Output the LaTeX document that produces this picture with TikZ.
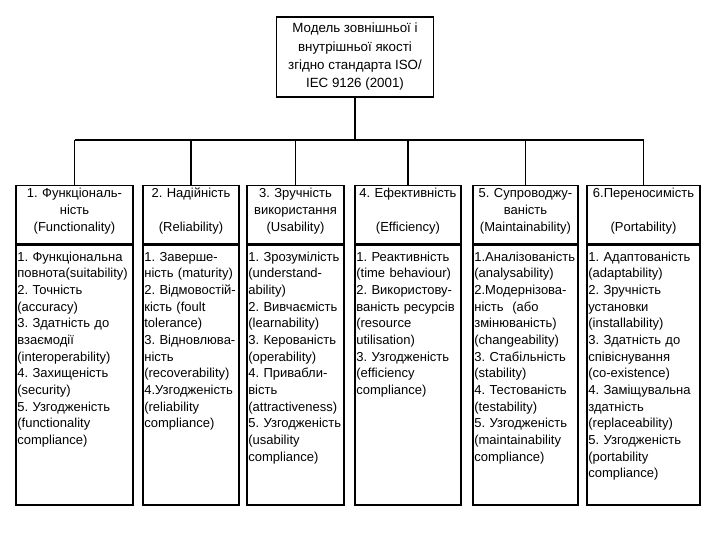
\documentclass[tikz,border=0pt]{standalone}
\usepackage{fontspec}
\setmainfont{Liberation Sans}
\usetikzlibrary{positioning}
\hyphenpenalty=10000
\frenchspacing
\tikzstyle{model} = [rectangle, draw=black, line width=1pt, align=center, minimum width=117.75pt, minimum height=60pt, inner sep=2pt, font=\fontsize{10}{13.75}\selectfont]
\tikzstyle{head} = [rectangle, draw=black, line width=1pt, anchor=north, align=center, inner xsep=1pt, inner ysep=2pt, text height=7pt, text depth=32.5pt, font=\fontsize{9.75}{12.75}\selectfont]
\tikzstyle{body} = [rectangle, draw=black, line width=1pt, align=left, inner xsep=1pt, inner ysep=3pt, text height=9pt, text depth=180pt, font=\fontsize{9.75}{12.5}\selectfont]
\tikzstyle{link} = [line width=0.9pt]

\begin{document}
\begin{tikzpicture}[x=0.75pt, y=-0.75pt]
    \useasboundingbox (0,0) rectangle (720,540);

    \node (model) [model] at (355,57) {Модель зовнішньої і\\внутрішньої якості\\згідно стандарта ISO/\\IEC 9126 (2001)};

    \node (head1) [head, text width=85.75pt] at (74.5,185) {1. Функціональ-\\ність\\(Functionality)};
    \node (head2) [head, text width=70pt] at (191,185) {2. Надійність\\\mbox{}\\(Reliability)};
    \node (head3) [head, text width=70.75pt] at (295.5,185) {3. Зручність\\використання\\(Usability)};
    \node (head4) [head, text width=77.5pt] at (408,185) {4. Ефективність\\\mbox{}\\(Efficiency)};
    \node (head5) [head, text width=76.75pt] at (525.5,185) {5. Супроводжу-\\ваність\\(Maintainability)};
    \node (head6) [head, text width=82.75pt] at (643.5,185) {6.Переносимість\\\mbox{}\\(Portability)};

    \node (body1) [body, text width=85.75pt, below=0pt of head1] {1. Функціональна\\повнота(suitability)\\2. Точність\\(accuracy)\\3. Здатність до\\взаємодії\\(interoperability)\\4. Захищеність\\(security)\\5. Узгодженість\\(functionality\\compliance)};
    \node (body2) [body, text width=70pt, below=0pt of head2] {1. Заверше-\\ність (maturity)\\2. Відмовостій-\\кість (foult\\tolerance)\\3. Відновлюва-\\ність\\(recoverability)\\4.Узгодженість\\(reliability\\compliance)};
    \node (body3) [body, text width=70.75pt, below=0pt of head3] {1. Зрозумілість\\(understand-\\ability)\\2. Вивчаємість\\(learnability)\\3. Керованість\\(operability)\\4. Привабли-\\вість\\(attractiveness)\\5. Узгодженість\\(usability\\compliance)};
    \node (body4) [body, text width=77.5pt, below=0pt of head4] {1. Реактивність\\(time behaviour)\\2. Використову-\\ваність ресурсів\\(resource\\utilisation)\\3. Узгодженість\\(efficiency\\compliance)};
    \node (body5) [body, text width=76.75pt, below=0pt of head5] {1.Аналізованість\\(analysability)\\2.Модернізова-\\ність~~(або\\змінюваність)\\(changeability)\\3. Стабільність\\(stability)\\4. Тестованість\\(testability)\\5. Узгодженість\\(maintainability\\compliance)};
    \node (body6) [body, text width=82.75pt, below=0pt of head6] {1. Адаптованість\\(adaptability)\\2. Зручність\\установки\\(installability)\\3. Здатність до\\співіснування\\(co-existence)\\4. Заміщувальна\\здатність\\(replaceability)\\5. Узгодженість\\(portability\\compliance)};

    \coordinate (bus) at (355,140);
    \draw [link] (model.south) -- (bus);
    \draw [link] (head1.north |- bus) -- (head6.north |- bus);
    \draw [link] (head1.north |- bus) -- (head1.north);
    \draw [link] (head2.north |- bus) -- (head2.north);
    \draw [link] (head3.north |- bus) -- (head3.north);
    \draw [link] (head4.north |- bus) -- (head4.north);
    \draw [link] (head5.north |- bus) -- (head5.north);
    \draw [link] (head6.north |- bus) -- (head6.north);

\end{tikzpicture}
\end{document}
